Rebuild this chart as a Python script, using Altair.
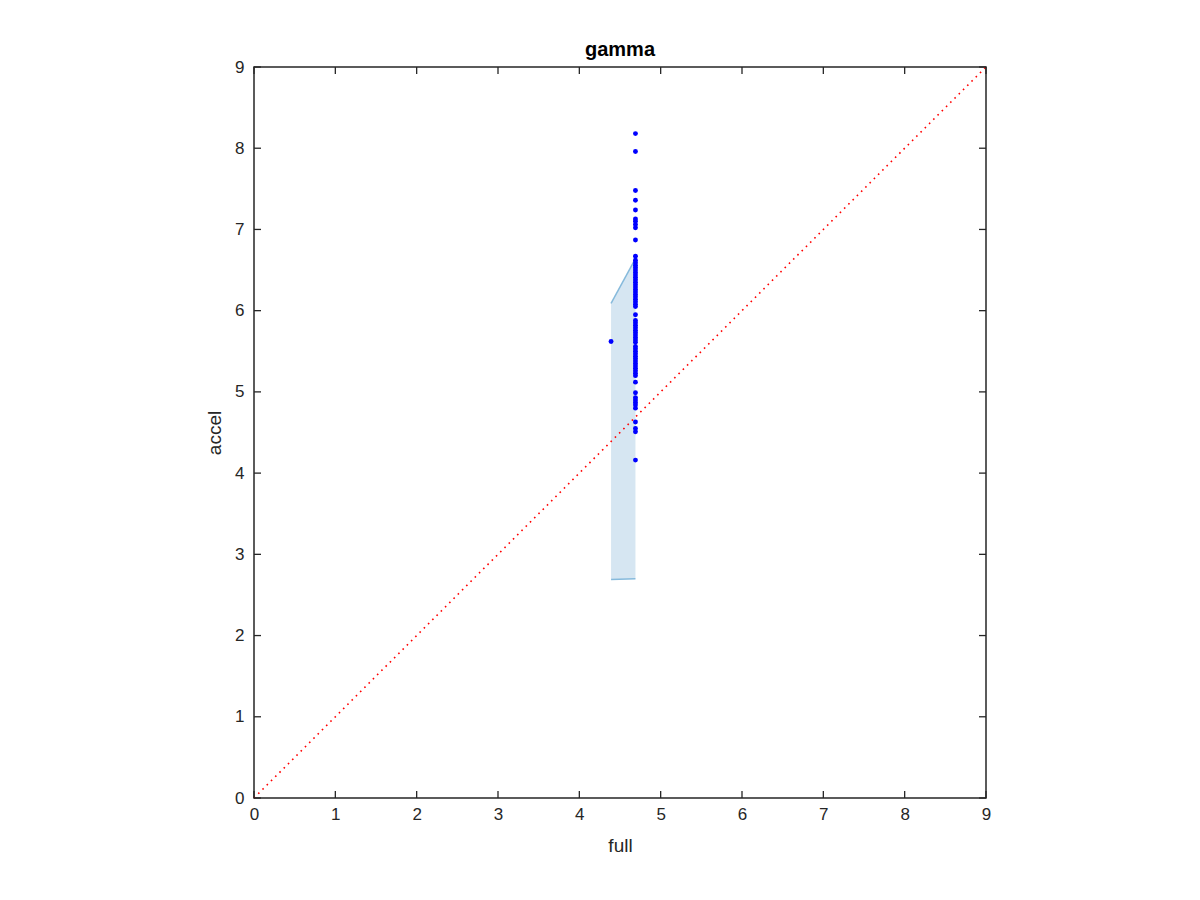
import altair as alt
import pandas as pd

# scatter points (full, accel)
pts_x = [4.69] * 66 + [4.39]
pts_y = [8.18, 7.96, 7.48, 7.36, 7.24, 7.13, 7.10, 7.06, 7.02, 6.87,
         6.67, 6.62, 6.59, 6.56, 6.53, 6.50, 6.47, 6.44, 6.41, 6.38,
         6.35, 6.32, 6.29, 6.26, 6.23, 6.20, 6.17, 6.14, 6.11, 6.08,
         6.05, 5.95, 5.88, 5.85, 5.82, 5.79, 5.76, 5.73, 5.70, 5.67,
         5.64, 5.61, 5.56, 5.53, 5.50, 5.47, 5.44, 5.41, 5.38, 5.35,
         5.32, 5.29, 5.26, 5.23, 5.20, 5.12, 4.99, 4.93, 4.90, 4.87,
         4.84, 4.80, 4.63, 4.55, 4.51, 4.16,
         5.62]
pts_x = pts_x[:len(pts_y)]

# shaded band
band_x = [4.39, 4.69]
band_lo = [2.69, 2.70]
band_hi = [6.09, 6.64]

# identity line
diag = [0, 9]

ticks = [0, 1, 2, 3, 4, 5, 6, 7, 8, 9]

W, H = 732, 731
TL = 7
DARK = "#262626"
FONT = "Liberation Sans"

pts = pd.DataFrame({"full": pts_x, "accel": pts_y})
band = pd.DataFrame({"full": band_x, "lo": band_lo, "hi": band_hi})
dg = pd.DataFrame({"full": diag, "accel": diag})
tk = pd.DataFrame({"v": ticks})

xs = alt.Scale(domain=[0, 9], nice=False, zero=False)
ys = alt.Scale(domain=[0, 9], nice=False, zero=False)

xaxis = alt.Axis(values=ticks, format="d", title="full", domain=False, ticks=False, grid=False,
                 labelFlush=False, labelOverlap=False,
                 labelFontSize=17, titleFontSize=19, labelPadding=8, titlePadding=14,
                 labelColor=DARK, titleColor=DARK, titleFontWeight="normal",
                 labelFont=FONT, titleFont=FONT)
yaxis = alt.Axis(values=ticks, format="d", title="accel", domain=False, ticks=False, grid=False,
                 labelFlush=False, labelOverlap=False,
                 labelFontSize=17, titleFontSize=19, labelPadding=10, titlePadding=10,
                 labelColor=DARK, titleColor=DARK, titleFontWeight="normal",
                 labelFont=FONT, titleFont=FONT)

area = alt.Chart(band).mark_area(color="#d6e6f2", opacity=1).encode(
    x=alt.X("full:Q", scale=xs, axis=xaxis),
    y=alt.Y("lo:Q", scale=ys, axis=yaxis),
    y2="hi:Q",
)
edge_lo = alt.Chart(band).mark_line(color="#86badc", strokeWidth=1.5).encode(
    x=alt.X("full:Q", scale=xs), y=alt.Y("lo:Q", scale=ys))
edge_hi = alt.Chart(band).mark_line(color="#86badc", strokeWidth=1.5).encode(
    x=alt.X("full:Q", scale=xs), y=alt.Y("hi:Q", scale=ys))

line = alt.Chart(dg).mark_line(color="#ff0000", strokeWidth=1.6, strokeDash=[1.6, 4.4]).encode(
    x=alt.X("full:Q", scale=xs), y=alt.Y("accel:Q", scale=ys))

points = alt.Chart(pts).mark_circle(color="#0000ff", size=24, opacity=1).encode(
    x=alt.X("full:Q", scale=xs), y=alt.Y("accel:Q", scale=ys))

tick_style = dict(color=DARK, strokeWidth=1.3)
t_bottom = alt.Chart(tk).mark_rule(**tick_style).encode(
    x=alt.X("v:Q", scale=xs), y=alt.value(H), y2=alt.value(H - TL))
t_top = alt.Chart(tk).mark_rule(**tick_style).encode(
    x=alt.X("v:Q", scale=xs), y=alt.value(0), y2=alt.value(TL))
t_left = alt.Chart(tk).mark_rule(**tick_style).encode(
    y=alt.Y("v:Q", scale=ys), x=alt.value(0), x2=alt.value(TL))
t_right = alt.Chart(tk).mark_rule(**tick_style).encode(
    y=alt.Y("v:Q", scale=ys), x=alt.value(W), x2=alt.value(W - TL))

chart = alt.layer(area, edge_lo, edge_hi, line, points,
                  t_bottom, t_top, t_left, t_right).properties(
    width=W, height=H,
    background="white",
    title=alt.TitleParams("gamma", fontSize=20, fontWeight="bold", font=FONT,
                          color="#000000", offset=-2),
    autosize=alt.AutoSizeParams(type="none"),
    padding={"left": 246, "top": 59, "right": 200, "bottom": 90},
).configure_view(stroke=DARK, strokeWidth=1.5)

chart.save("out.html", embed_options={"renderer": "svg", "actions": False})
